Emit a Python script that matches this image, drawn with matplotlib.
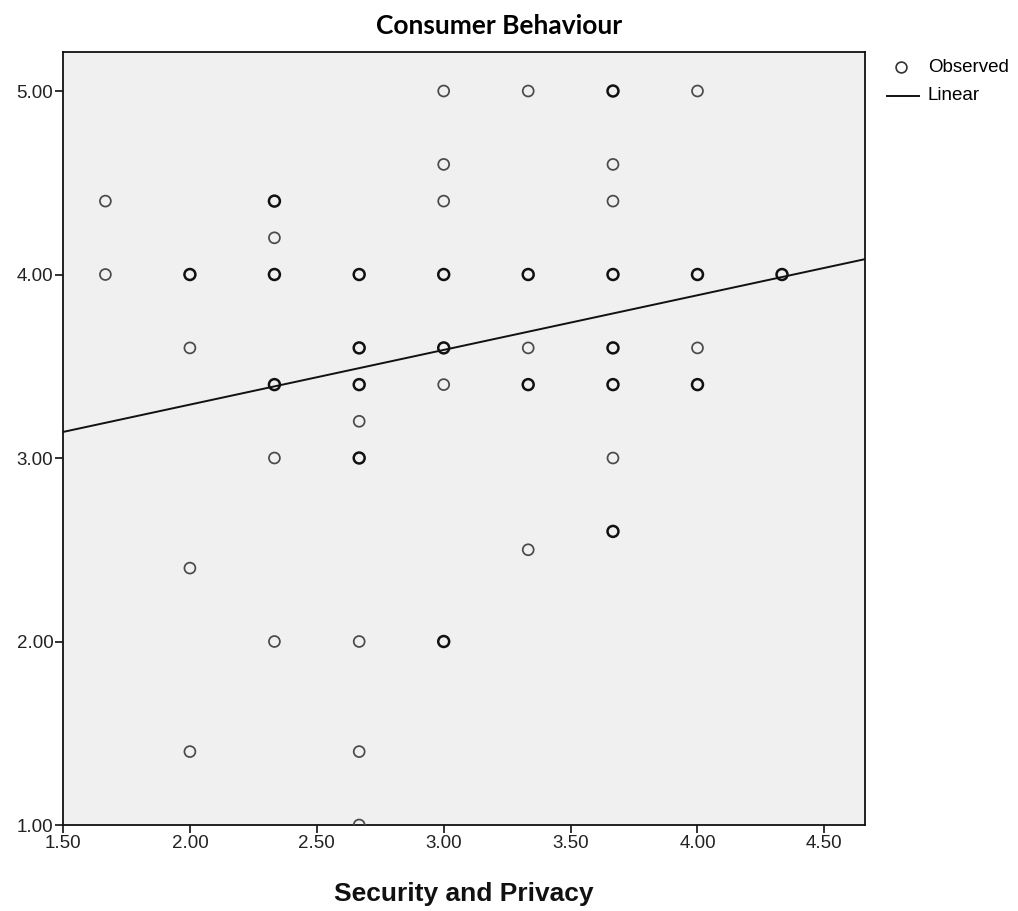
import numpy as np
import matplotlib.pyplot as plt

# observed points (x = Security and Privacy, y = Consumer Behaviour), n = overlap count
sec_priv = [1.667, 1.667,
            2.0, 2.0, 2.0, 2.0,
            2.333, 2.333, 2.333, 2.333, 2.333, 2.333,
            2.667, 2.667, 2.667, 2.667, 2.667, 2.667, 2.667, 2.667,
            3.0, 3.0, 3.0, 3.0, 3.0, 3.0, 3.0,
            3.333, 3.333, 3.333, 3.333, 3.333,
            3.667, 3.667, 3.667, 3.667, 3.667, 3.667, 3.667, 3.667,
            4.0, 4.0, 4.0, 4.0,
            4.333]
cons_beh = [4.4, 4.0,
            4.0, 3.6, 2.4, 1.4,
            4.4, 4.2, 4.0, 3.4, 3.0, 2.0,
            4.0, 3.6, 3.4, 3.2, 3.0, 2.0, 1.4, 1.0,
            5.0, 4.6, 4.4, 4.0, 3.6, 3.4, 2.0,
            5.0, 4.0, 3.6, 3.4, 2.5,
            5.0, 4.6, 4.4, 4.0, 3.6, 3.4, 3.0, 2.6,
            5.0, 4.0, 3.6, 3.4,
            4.0]
n_obs = [1, 1,
         2, 1, 1, 1,
         2, 1, 2, 2, 1, 1,
         2, 2, 2, 1, 2, 1, 1, 1,
         1, 1, 1, 2, 2, 1, 2,
         1, 2, 1, 2, 1,
         2, 1, 1, 2, 2, 2, 1, 2,
         1, 2, 1, 2,
         2]

# linear fit
fit_intercept = 2.695
fit_slope = 0.298

x_ticks = [1.5, 2.0, 2.5, 3.0, 3.5, 4.0, 4.5]
y_ticks = [1.0, 2.0, 3.0, 4.0, 5.0]

fig = plt.figure(figsize=(10.18, 9.11), dpi=100)
ax = fig.add_axes([0.0619, 0.0944, 0.7878, 0.848])
ax.set_facecolor("#f0f0f0")

sec_priv = np.array(sec_priv)
cons_beh = np.array(cons_beh)
n_obs = np.array(n_obs)
multi = n_obs > 1
ax.scatter(sec_priv[~multi], cons_beh[~multi], s=62, facecolors="none",
           edgecolors="#4a4a4a", linewidths=1.25, zorder=3)
ax.scatter(sec_priv[multi], cons_beh[multi], s=62, facecolors="none",
           edgecolors="#111111", linewidths=1.8, zorder=3)

xl = (1.5, 4.66)
xx = np.array(xl)
ax.plot(xx, fit_intercept + fit_slope * xx, color="#111111", lw=1.4, zorder=4)

ax.set_xlim(*xl)
ax.set_ylim(1.0, 5.21)
ax.set_xticks(x_ticks)
ax.set_yticks(y_ticks)
ax.set_xticklabels(["%.2f" % v for v in x_ticks], fontsize=13.5, family="Liberation Sans", color="#222222")
ax.set_yticklabels(["%.2f" % v for v in y_ticks], fontsize=13.5, family="Liberation Sans", color="#222222")
ax.tick_params(length=6, width=1.2, color="#111111", pad=1)
for sp in ax.spines.values():
    sp.set_color("#111111")
    sp.set_linewidth(1.3)

ax.set_xlabel("Security and Privacy", fontsize=19, fontweight="bold",
              family="Liberation Sans", labelpad=22, color="#111111")
fig.text(0.4905, 0.972, "Consumer Behaviour", ha="center", va="center",
         fontsize=19, fontweight="bold", family="Lato")

# legend
fig.text(0.9115, 0.926, "Observed", fontsize=13.5, family="Liberation Sans", va="center")
fig.text(0.9115, 0.895, "Linear", fontsize=13.5, family="Liberation Sans", va="center")
fig.lines.append(plt.Line2D([0.8855], [0.926], marker="o", ms=7.8, mfc="none",
                            mec="#333333", mew=1.2, transform=fig.transFigure))
fig.lines.append(plt.Line2D([0.871, 0.903], [0.895, 0.895], color="#111111", lw=1.4,
                            transform=fig.transFigure))

plt.savefig("out.png")
